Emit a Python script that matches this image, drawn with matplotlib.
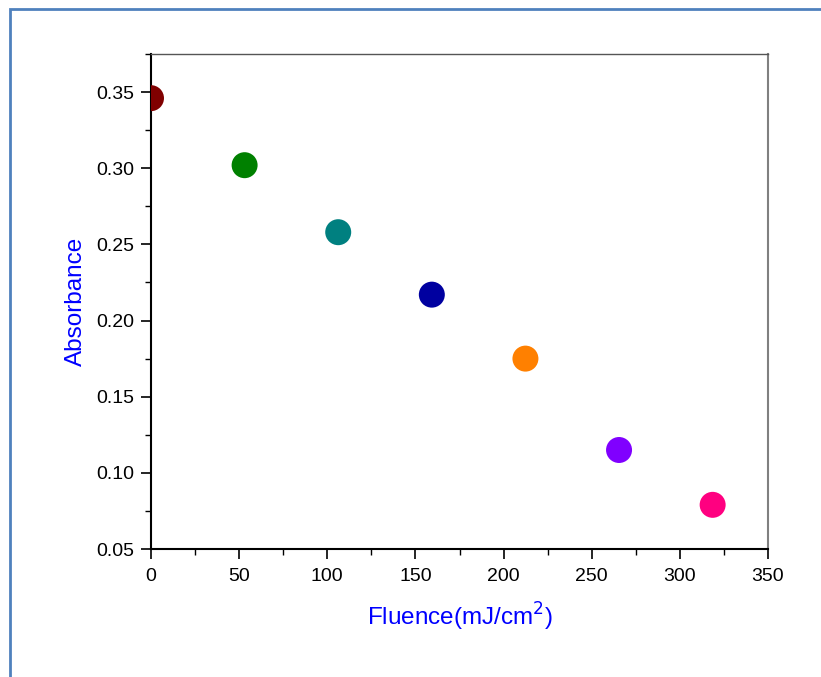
import matplotlib
matplotlib.use("Agg")
import matplotlib.pyplot as plt
from matplotlib.patches import Rectangle
from matplotlib.ticker import MultipleLocator

plt.rcParams['font.family'] = ['Liberation Sans', 'DejaVu Sans']

fluence = [0, 53.1, 106.2, 159.3, 212.4, 265.5, 318.6]
absorbance = [0.346, 0.302, 0.258, 0.217, 0.175, 0.115, 0.079]
colors = ['#800000', '#008000', '#008080', '#0000A0', '#FF8000', '#8000FF', '#FF0080']

fig = plt.figure(figsize=(8.21, 6.77), dpi=100)
fig.patches.append(Rectangle((10/821, -0.1), 1.2, 1 - 9/677 + 0.1, transform=fig.transFigure,
                             fill=False, edgecolor='#4F81BD', linewidth=2))

ax = fig.add_axes([151/821, 1 - 549/677, (768-151)/821, (549-54)/677])
ax.scatter(fluence, absorbance, s=350, c=colors, zorder=3, linewidths=0)

ax.set_xlim(0, 350)
ax.set_ylim(0.05, 0.375)
ax.xaxis.set_major_locator(MultipleLocator(50))
ax.xaxis.set_minor_locator(MultipleLocator(25))
ax.yaxis.set_major_locator(MultipleLocator(0.05))
ax.yaxis.set_minor_locator(MultipleLocator(0.025))
ax.yaxis.set_major_formatter(matplotlib.ticker.FormatStrFormatter('%.2f'))

for s in ['left', 'bottom']:
    ax.spines[s].set_linewidth(1.5)
    ax.spines[s].set_color('black')
ax.spines['top'].set_color('#555555')
ax.spines['top'].set_linewidth(1.0)
ax.spines['right'].set_color('#808080')
ax.spines['right'].set_linewidth(1.5)

ax.tick_params(which='major', direction='out', length=7, width=1.2, labelsize=14, pad=5)
ax.tick_params(axis='x', which='major', pad=7)
ax.tick_params(which='minor', direction='out', length=4, width=1.0)
ax.tick_params(top=False, right=False, which='both')

ax.set_xlabel('Fluence(mJ/cm$^2$)', color='#0000FF', fontsize=17.5, labelpad=11)
ax.set_ylabel('Absorbance', color='#0000FF', fontsize=17.5, labelpad=7)

fig.savefig('out.png', dpi=100)
